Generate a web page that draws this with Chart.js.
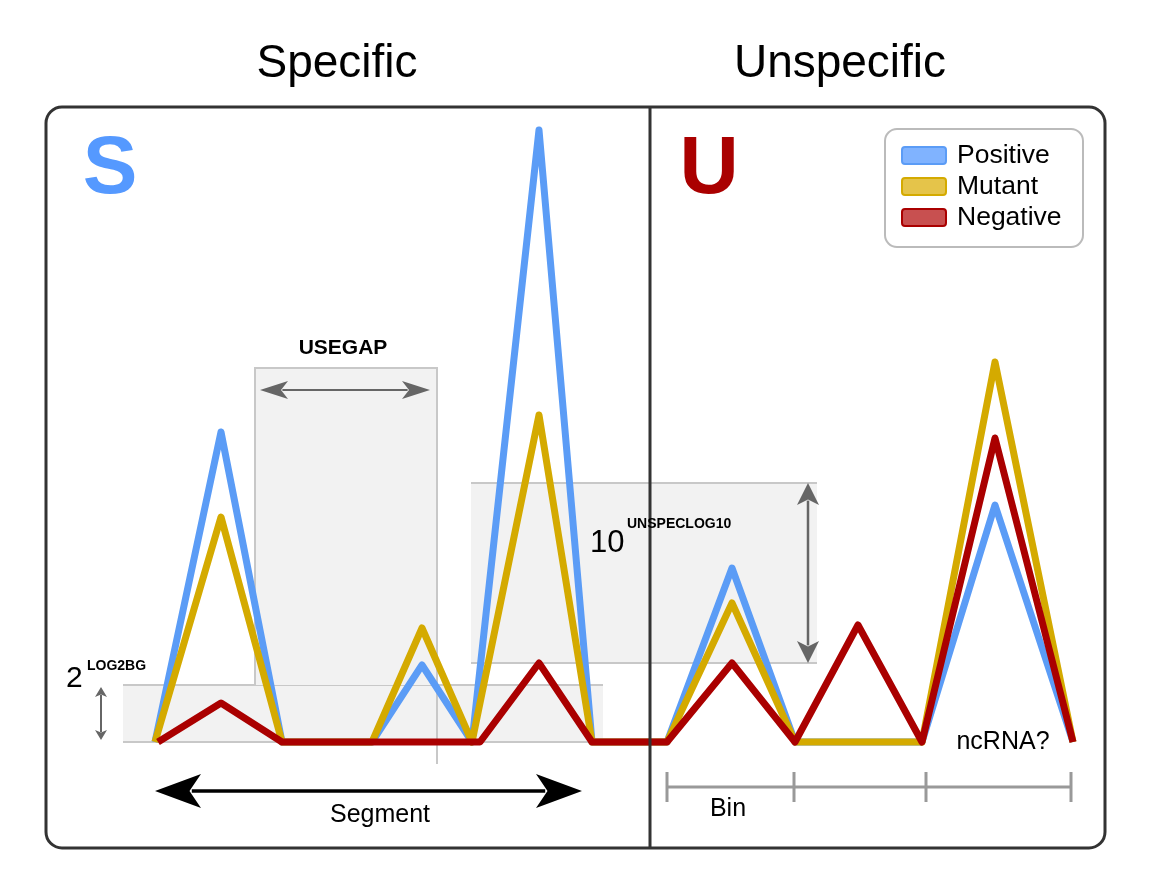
<!DOCTYPE html>
<html><head><meta charset="utf-8">
<script src="https://cdn.jsdelivr.net/npm/chart.js@4"></script>
<style>body{margin:0;background:#fff}canvas{display:block}</style>
</head><body>
<canvas id="c" width="1155" height="888"></canvas>
<script>
const posPM = [155,221,282,372,422,472,539,592,667,732,795,922,995,1073];
const positive = [0,3.10,0,0,0.77,0,6.12,0,0,1.74,0,0,2.37,0];
const mutant   = [0,2.25,0,0,1.14,0,3.27,0,0,1.39,0,0,3.80,0];
const posNeg = [158,221,282,480,539,592,667,732,795,858,922,995,1073];
const negative = [0,0.39,0,0,0.79,0,0,0.79,0,1.17,0,3.04,0];
const seriesNames = ['Positive','Mutant','Negative'];
const colors = ['#5b9cf6','#d4aa00','#aa0000'];
const fills = ['#80b3ff','#e5c44a','#c85050'];

const pts = (xs, ys) => xs.map((x,i)=>({x, y:ys[i]}));

const deco = {
  id:'deco',
  beforeDatasetsDraw(chart){
    const c = chart.ctx, X = v=>chart.scales.x.getPixelForValue(v), Y = v=>chart.scales.y.getPixelForValue(v);
    c.save();
    c.fillStyle='#f2f2f2'; c.strokeStyle='#c8c8c8'; c.lineWidth=2;
    c.fillRect(X(123),Y(0.57),X(603)-X(123),Y(0)-Y(0.57));
    c.beginPath();c.moveTo(X(123),Y(0.57));c.lineTo(X(603),Y(0.57));c.moveTo(X(123),Y(0));c.lineTo(X(603),Y(0));c.stroke();
    c.fillRect(X(255),Y(3.74),X(437)-X(255),Y(0.57)-Y(3.74));
    c.beginPath();c.moveTo(X(255),Y(0.57));c.lineTo(X(255),Y(3.74));c.lineTo(X(437),Y(3.74));c.lineTo(X(437),Y(-0.22));c.stroke();
    c.fillRect(X(471),Y(2.59),X(817)-X(471),Y(0.79)-Y(2.59));
    c.beginPath();c.moveTo(X(471),Y(2.59));c.lineTo(X(817),Y(2.59));c.moveTo(X(471),Y(0.79));c.lineTo(X(817),Y(0.79));c.stroke();
    c.restore();
  },
  afterDraw(chart){
    const c = chart.ctx, X = v=>chart.scales.x.getPixelForValue(v), Y = v=>chart.scales.y.getPixelForValue(v);
    c.save();
    const arrow=(x1,y1,x2,y2,col,lw,hl,hw)=>{
      c.strokeStyle=col;c.fillStyle=col;c.lineWidth=lw;
      const a=Math.atan2(y2-y1,x2-x1), L=Math.hypot(x2-x1,y2-y1);
      c.save();c.translate(x1,y1);c.rotate(a);
      c.beginPath();c.moveTo(hl*0.8,0);c.lineTo(L-hl*0.8,0);c.stroke();
      c.beginPath();c.moveTo(0,0);c.lineTo(hl,-hw);c.lineTo(hl*0.75,0);c.lineTo(hl,hw);c.closePath();c.fill();
      c.beginPath();c.moveTo(L,0);c.lineTo(L-hl,-hw);c.lineTo(L-hl*0.75,0);c.lineTo(L-hl,hw);c.closePath();c.fill();
      c.restore();
    };
    c.strokeStyle='#333';c.lineWidth=3;
    c.beginPath();c.roundRect(46,107,1059,741,16);c.stroke();
    c.beginPath();c.moveTo(650,107);c.lineTo(650,848);c.stroke();
    c.fillStyle='#000';c.textAlign='center';c.textBaseline='alphabetic';
    c.font='46px "Liberation Sans", Arial';
    c.fillText('Specific',337,77);c.fillText('Unspecific',840,77);
    c.font='bold 82px "Liberation Sans", Arial';
    c.fillStyle='#5599ff';c.fillText('S',110,193);
    c.fillStyle='#aa0000';c.fillText('U',709,193);
    c.fillStyle='#fff';c.strokeStyle='#bbb';c.lineWidth=2;
    c.beginPath();c.roundRect(885,129,198,118,12);c.fill();c.stroke();
    c.font='26.5px "Liberation Sans", Arial';c.textAlign='left';c.textBaseline='middle';
    seriesNames.forEach((n,i)=>{
      const y=155+i*31;
      c.fillStyle=fills[i];c.strokeStyle=colors[i];c.lineWidth=2;
      c.beginPath();c.roundRect(902,y-8,44,17,3);c.fill();c.stroke();
      c.fillStyle='#000';c.fillText(n,957,y+1);
    });
    arrow(X(260),Y(3.52),X(430),Y(3.52),'#666',2,28,9);
    arrow(X(808),Y(2.59),X(808),Y(0.79),'#666',2.5,22,11);
    arrow(X(101),Y(0.55),X(101),Y(0.02),'#666',2,10,6);
    arrow(X(155),Y(-0.49),X(582),Y(-0.49),'#000',3.5,46,17);
    c.fillStyle='#000';c.textBaseline='alphabetic';c.textAlign='center';
    c.font='bold 21px "Liberation Sans", Arial';c.fillText('USEGAP',343,354);
    c.textAlign='left';
    c.font='31px "Liberation Sans", Arial';c.fillText('10',590,552);
    c.font='bold 14px "Liberation Sans", Arial';c.fillText('UNSPECLOG10',627,528);
    c.font='30px "Liberation Sans", Arial';c.fillText('2',66,687);
    c.font='bold 14px "Liberation Sans", Arial';c.fillText('LOG2BG',87,670);
    c.textAlign='center';c.font='25px "Liberation Sans", Arial';
    c.fillText('Segment',380,822);
    c.fillText('Bin',728,816);
    c.fillText('ncRNA?',1003,749);
    c.strokeStyle='#999';c.lineWidth=3;
    c.beginPath();c.moveTo(667,787);c.lineTo(1071,787);
    [667,794,926,1071].forEach(x=>{c.moveTo(x,772);c.lineTo(x,802);});
    c.stroke();
    c.restore();
  }
};

new Chart(document.getElementById('c'),{
  type:'line',
  data:{datasets:[
    {label:seriesNames[0],data:pts(posPM,positive),borderColor:colors[0],borderWidth:7,pointRadius:0,order:3},
    {label:seriesNames[1],data:pts(posPM,mutant),borderColor:colors[1],borderWidth:7,pointRadius:0,order:2},
    {label:seriesNames[2],data:pts(posNeg,negative),borderColor:colors[2],borderWidth:7,pointRadius:0,order:1}
  ]},
  options:{responsive:false,animation:false,layout:{padding:0},
    elements:{line:{tension:0,borderJoinStyle:'round',borderCapStyle:'butt'}},
    plugins:{legend:{display:false},tooltip:{enabled:false}},
    scales:{x:{type:'linear',min:0,max:1155,display:false},
            y:{type:'linear',min:-1.46,max:7.42,display:false}}},
  plugins:[deco]
});
</script>
</body></html>
